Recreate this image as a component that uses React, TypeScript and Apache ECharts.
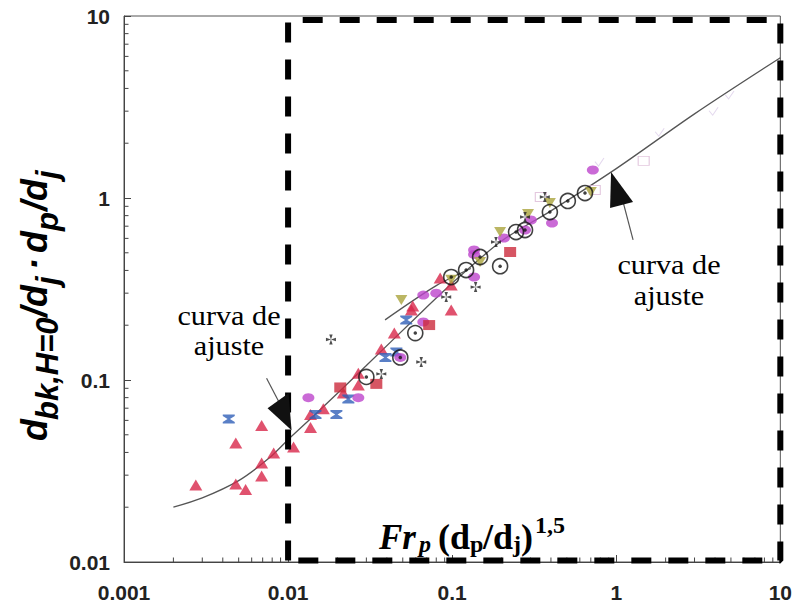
import React, { useEffect, useRef } from 'react';
import * as echarts from 'echarts';

// ---- tick labels ----
const xTickLabels = ['0.001', '0.01', '0.1', '1', '10'];
const yTickLabels = ['0.01', '0.1', '1', '10'];
const xMinorTicks = [0.002, 0.003, 0.004, 0.005, 0.006, 0.007, 0.008, 0.009, 0.02, 0.03, 0.04, 0.05, 0.06, 0.07, 0.08, 0.09, 0.2, 0.3, 0.4, 0.5, 0.6, 0.7, 0.8, 0.9, 2, 3, 4, 5, 6, 7, 8, 9];
const yMinorTicks = [0.02, 0.03, 0.04, 0.05, 0.06, 0.07, 0.08, 0.09, 0.2, 0.3, 0.4, 0.5, 0.6, 0.7, 0.8, 0.9, 2, 3, 4, 5, 6, 7, 8, 9];

// ---- data series (x, y) ----
const redTriangles: [number, number][] = [
  [0.00274, 0.0265], [0.0048, 0.0451], [0.0048, 0.0268], [0.00551, 0.025], [0.0069, 0.0562],
  [0.0069, 0.035], [0.0069, 0.0297], [0.00817, 0.0397], [0.0108, 0.0429], [0.0137, 0.0646],
  [0.0137, 0.0548], [0.0164, 0.0694], [0.0217, 0.0849], [0.0268, 0.109], [0.0268, 0.0938],
  [0.037, 0.148], [0.0444, 0.181], [0.0564, 0.2425], [0.0575, 0.255], [0.0845, 0.363],
  [0.0987, 0.333], [0.0987, 0.2425],
];
const blueHourglasses: [number, number][] = [
  [0.00435, 0.0611], [0.0147, 0.0646], [0.0197, 0.0646], [0.0233, 0.0786], [0.0392, 0.133],
  [0.0457, 0.1426], [0.0525, 0.2136],
];
const magentaEllipses: [number, number][] = [
  [0.0133, 0.08], [0.0268, 0.08], [0.0483, 0.133], [0.0667, 0.2083], [0.0667, 0.293],
  [0.08, 0.3], [0.136, 0.518], [0.136, 0.49], [0.136, 0.368], [0.207, 0.603], [0.278, 0.667],
  [0.302, 0.757], [0.406, 0.729], [0.72, 1.425],
];
const redSquares: [number, number][] = [
  [0.0208, 0.091], [0.0345, 0.0952], [0.0724, 0.2004], [0.2256, 0.505],
];
const oliveTriangles: [number, number][] = [
  [0.049, 0.275], [0.0987, 0.355], [0.148, 0.445], [0.196, 0.65], [0.29, 0.817], [0.394, 0.939], [0.7, 1.08],
];
const circleDots: [number, number][] = [
  [0.03, 0.104], [0.0596, 0.181], [0.0987, 0.368], [0.1216, 0.402], [0.148, 0.474], [0.196, 0.422],
  [0.245, 0.65], [0.278, 0.667], [0.394, 0.837], [0.507, 0.963], [0.645, 1.065], [0.0483, 0.133],
];
const malteseCrosses: [number, number][] = [
  [0.01825, 0.167], [0.037, 0.108], [0.0648, 0.1256], [0.092, 0.286], [0.139, 0.324],
  [0.185, 0.573], [0.278, 0.7865], [0.367, 1.013],
];
const faintSquares: [number, number][] = [[0.74, 1.106], [1.47, 1.6], [0.347, 1.013]];
const faintChecks: [number, number][] = [[0.79, 1.576], [1.84, 2.3], [3.92, 3.0], [4.9, 3.68]];

// ---- fitted curves ----
const mainFitX = [0.002, 0.003, 0.005, 0.0076, 0.01, 0.015, 0.03, 0.06, 0.1, 0.2, 0.4, 1, 3, 10];
const mainFitY = [0.02, 0.0225, 0.028, 0.037, 0.047, 0.066, 0.12, 0.22, 0.34, 0.58, 0.85, 1.45, 2.9, 5.9];
const upperFitX = [0.039, 0.08, 0.13];
const upperFitY = [0.214, 0.33, 0.41];

// ---- dashed highlight box ----
const boxX = [0.01, 0.01, 10, 10, 0.01];
const boxY = [0.0102, 9.5, 9.5, 0.0102, 0.0102];

// ---- annotation anchors (data coords) ----
const arrowLeftTip: [number, number] = [0.0105, 0.053];
const arrowRightTip: [number, number] = [0.93, 1.39];

const serif = '"Liberation Serif", "Times New Roman", serif';
const sans = '"Liberation Sans", Arial, sans-serif';

const HOURGLASS = 'path://M0,0 L12,0 L12,1.6 L7.2,5 L12,8.4 L12,10 L0,10 L0,8.4 L4.8,5 L0,1.6 Z';
const MALTESE = 'path://M3.3,0 L6.7,0 L5,5 Z M10,3.3 L10,6.7 L5,5 Z M6.7,10 L3.3,10 L5,5 Z M0,6.7 L0,3.3 L5,5 Z';
const CHECK = 'path://M0,4 L4,9 L10,0';

function zip(xs: number[], ys: number[]) {
  return xs.map((x, i) => [x, ys[i]]);
}

function txt(text: string, x: number, y: number, size: number, family: string, italic: boolean, extra: any = {}) {
  return {
    type: 'text',
    x,
    y,
    z: 100,
    ...extra,
    style: {
      text,
      fontFamily: family,
      fontSize: size,
      fontWeight: 'bold',
      fontStyle: italic ? 'italic' : 'normal',
      fill: '#000',
      align: 'left',
      textAlign: 'left',
      verticalAlign: 'middle',
      textVerticalAlign: 'middle',
    },
  };
}

function plainTxt(text: string, x: number, y: number) {
  return {
    type: 'text',
    x,
    y,
    scaleX: 1.12,
    z: 100,
    style: {
      text,
      fontFamily: serif,
      fontSize: 27,
      fill: '#000',
      align: 'center',
      textAlign: 'center',
      verticalAlign: 'middle',
      textVerticalAlign: 'middle',
    },
  };
}

export default function App() {
  const ref = useRef<HTMLDivElement>(null);
  useEffect(() => {
    document.body.style.margin = '0';
    const chart = echarts.init(ref.current!, null, { renderer: 'svg' });
    const tickSeries = (vals: number[], dir: 'x' | 'y') => ({
      type: 'custom',
      silent: true,
      z: 5,
      clip: false,
      data: vals.map((v) => (dir === 'x' ? [v, 0.01] : [0.001, v])),
      renderItem: (params: any, api: any) => {
        const p = api.coord([api.value(0), api.value(1)]);
        return dir === 'x'
          ? { type: 'line', shape: { x1: p[0], y1: p[1], x2: p[0], y2: p[1] - 4.5 }, style: { stroke: '#444', lineWidth: 1 } }
          : { type: 'line', shape: { x1: p[0], y1: p[1], x2: p[0] + 4.5, y2: p[1] }, style: { stroke: '#444', lineWidth: 1 } };
      },
    });
    const scatter = (data: [number, number][], symbol: string, size: any, itemStyle: any, extra: any = {}) => ({
      type: 'scatter',
      data,
      symbol,
      symbolSize: size,
      itemStyle,
      z: 3,
      silent: true,
      ...extra,
    });

    chart.setOption({
      animation: false,
      grid: { left: 124, right: 12, top: 16, bottom: 46, show: true, borderColor: '#555', borderWidth: 1 },
      xAxis: {
        type: 'log',
        logBase: 10,
        min: 0.001,
        max: 10,
        axisLine: { show: true, lineStyle: { color: '#444', width: 1 } },
        axisTick: { show: true, inside: true, length: 7, lineStyle: { color: '#444' } },
        splitLine: { show: false },
        axisLabel: {
          margin: 20,
          fontFamily: sans,
          fontWeight: 'bold',
          fontSize: 21,
          color: '#222',
          showMinLabel: true,
          showMaxLabel: true,
          formatter: (v: number) => xTickLabels[Math.round(Math.log10(v)) + 3] ?? '',
        },
      },
      yAxis: {
        type: 'log',
        logBase: 10,
        min: 0.01,
        max: 10,
        axisLine: { show: true, lineStyle: { color: '#444', width: 1 } },
        axisTick: { show: true, inside: true, length: 7, lineStyle: { color: '#444' } },
        splitLine: { show: false },
        axisLabel: {
          margin: 14,
          fontFamily: sans,
          fontWeight: 'bold',
          fontSize: 21,
          color: '#222',
          showMinLabel: true,
          showMaxLabel: true,
          formatter: (v: number) => yTickLabels[Math.round(Math.log10(v)) + 2] ?? '',
        },
      },
      series: [
        tickSeries(xMinorTicks, 'x'),
        tickSeries(yMinorTicks, 'y'),
        {
          type: 'line',
          data: zip(mainFitX, mainFitY),
          smooth: 0.3,
          showSymbol: false,
          symbol: 'none',
          lineStyle: { color: '#555', width: 1.3 },
          z: 2,
          silent: true,
        },
        {
          type: 'line',
          data: zip(upperFitX, upperFitY),
          smooth: 0.3,
          showSymbol: false,
          symbol: 'none',
          lineStyle: { color: '#555', width: 1.3 },
          z: 2,
          silent: true,
        },
        scatter(faintSquares, 'rect', [11, 9], { color: 'rgba(0,0,0,0)', borderColor: '#dcb9d6', borderWidth: 1 }),
        scatter(faintChecks, CHECK, [9, 8], { color: 'rgba(0,0,0,0)', borderColor: '#ddd0ea', borderWidth: 1 }),
        scatter(redTriangles, 'triangle', [13, 11], { color: '#d8274a' }),
        scatter(blueHourglasses, HOURGLASS, [12, 9], { color: '#2f5fb8' }),
        scatter(magentaEllipses, 'circle', [12, 9], { color: '#bd45cc' }),
        scatter(redSquares, 'rect', [12, 10], { color: '#cc2a3c' }),
        scatter(oliveTriangles, 'triangle', [12, 10], { color: '#aaa43c' }, { symbolRotate: 180 }),
        scatter(circleDots, 'circle', 15, { color: 'rgba(0,0,0,0)', borderColor: '#111', borderWidth: 1.6 }),
        scatter(circleDots, 'circle', 3.5, { color: '#111' }),
        scatter(malteseCrosses, MALTESE, 10, { color: '#222' }),
        {
          type: 'line',
          data: zip(boxX, boxY),
          showSymbol: false,
          symbol: 'none',
          clip: false,
          z: 10,
          silent: true,
          lineStyle: { color: '#000', width: 6, type: [20, 17], cap: 'butt' },
        },
      ],
    });

    const tl = chart.convertToPixel({ gridIndex: 0 } as any, arrowLeftTip) as number[];
    const tr = chart.convertToPixel({ gridIndex: 0 } as any, arrowRightTip) as number[];

    // x title pieces
    const xMainY = 537, xSubY = 544, xSupY = 525;
    const xTitle = [
      txt('Fr', 379, xMainY, 35, serif, true),
      txt('p', 419, xSubY, 24, serif, true),
      txt('(', 438, xMainY, 36, serif, false),
      txt('d', 450, xMainY, 36, serif, false),
      txt('p', 470, xSubY, 24, serif, false),
      txt('/', 483, xMainY, 36, serif, false),
      txt('d', 493, xMainY, 36, serif, false),
      txt('j', 513, xSubY, 24, serif, false),
      txt(')', 521, xMainY, 36, serif, false),
      txt('1,5', 535, xSupY, 24, serif, false),
    ];

    // y title pieces in a rotated group (local x runs upward on screen)
    const yM = -12, yS = 1.5;
    const yTitle = {
      type: 'group',
      x: 46,
      y: 441,
      rotation: Math.PI / 2,
      z: 100,
      children: [
        txt('d', 0, yM, 36, sans, true),
        txt('bk,H=0', 21, yS, 31, sans, true),
        txt('/d', 124, yM, 36, sans, true),
        txt('j', 156, yS, 31, sans, true),
        txt('·', 171, yM, 36, sans, true),
        txt('d', 188, yM, 36, sans, true),
        txt('p', 210, yS, 31, sans, true),
        txt('/d', 230, yM, 36, sans, true),
        txt('j', 262, yS, 31, sans, true),
      ],
    };

    chart.setOption({
      graphic: [
        ...xTitle,
        yTitle,
        plainTxt('curva de', 229, 316),
        plainTxt('ajuste', 229, 346),
        plainTxt('curva de', 669, 265),
        plainTxt('ajuste', 669, 296),
        {
          type: 'line',
          z: 50,
          shape: { x1: tl[0] - 25, y1: tl[1] - 52, x2: tl[0] - 13, y2: tl[1] - 29 },
          style: { stroke: '#555', lineWidth: 1.2 },
        },
        {
          type: 'polygon',
          z: 51,
          shape: { points: [[tl[0], tl[1]], [tl[0] - 24, tl[1] - 22], [tl[0] - 3, tl[1] - 37]] },
          style: { fill: '#111' },
        },
        {
          type: 'line',
          z: 50,
          shape: { x1: tr[0] + 22, y1: tr[1] + 68, x2: tr[0] + 12, y2: tr[1] + 30 },
          style: { stroke: '#555', lineWidth: 1.2 },
        },
        {
          type: 'polygon',
          z: 51,
          shape: { points: [[tr[0], tr[1]], [tr[0] - 1, tr[1] + 36], [tr[0] + 22, tr[1] + 30]] },
          style: { fill: '#111' },
        },
      ],
    });

    return () => chart.dispose();
  }, []);
  return <div ref={ref} style={{ width: 795, height: 608 }} />;
}
